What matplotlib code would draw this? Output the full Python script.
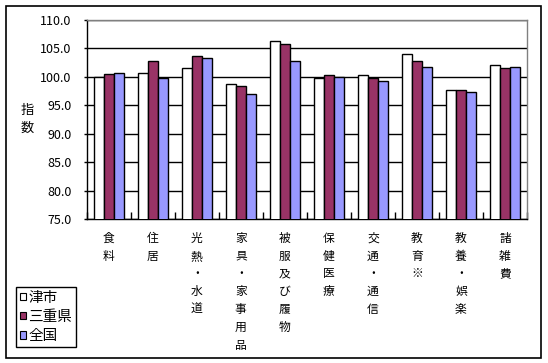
import matplotlib
matplotlib.use("Agg")
import matplotlib.pyplot as plt
from matplotlib.patches import Rectangle, Patch
import numpy as np

plt.rcParams['font.family'] = ['Noto Sans CJK JP', 'DejaVu Sans']

categories = ["食料", "住居", "光熱・水道", "家具・家事用品", "被服及び履物",
              "保健医療", "交通・通信", "教育※", "教養・娯楽", "諸雑費"]
series_names = ["津市", "三重県", "全国"]
tsu = [99.9, 100.7, 101.5, 98.7, 106.3, 99.8, 100.3, 103.9, 97.7, 102.0]
mie = [100.5, 102.7, 103.7, 98.4, 105.8, 100.3, 99.8, 102.8, 97.7, 101.5]
zenkoku = [100.7, 99.8, 103.3, 97.0, 102.8, 100.0, 99.3, 101.7, 97.3, 101.7]
yticks = [75.0, 80.0, 85.0, 90.0, 95.0, 100.0, 105.0, 110.0]
colors = ["#FFFFFF", "#993366", "#9999FF"]

W, H = 548, 363
fig = plt.figure(figsize=(W / 100, H / 100), dpi=100)

# outer border
fig.patches.append(Rectangle((6 / W, 1 - 357.7 / H), 535 / W, 351.7 / H,
                             transform=fig.transFigure, fill=False,
                             edgecolor="black", linewidth=1.2))

left, right, top, bottom = 86.7, 527.0, 19.7, 219.3
ax = fig.add_axes([left / W, 1 - bottom / H, (right - left) / W, (bottom - top) / H])

x = np.arange(len(categories))
bw = 0.227
for k, (vals, c) in enumerate(zip([tsu, mie, zenkoku], colors)):
    ax.bar(x + (k - 1) * bw, vals, width=bw, color=c, edgecolor="black",
           linewidth=1.0, label=series_names[k], zorder=3)

ax.set_xlim(-0.5, len(categories) - 0.5)
ax.set_ylim(yticks[0], yticks[-1])
ax.set_yticks(yticks)
ax.set_yticklabels([f"{v:.1f}" for v in yticks], fontsize=9)
ax.yaxis.grid(True, color="black", linewidth=1.0, zorder=0)
ax.set_axisbelow(True)
ax.tick_params(axis="y", length=2, width=1, pad=9)

ax.set_xticks(np.arange(len(categories) + 1) - 0.5)
ax.set_xticklabels([])
ax.tick_params(axis="x", direction="in", length=5, width=1)

for s in ["left", "bottom"]:
    ax.spines[s].set_color("black")
    ax.spines[s].set_linewidth(1.0)
for s in ["top", "right"]:
    ax.spines[s].set_color("#808080")
    ax.spines[s].set_linewidth(1.0)

# vertical category labels
row0 = (238.3 - bottom) / (bottom - top)
dy = 17.8 / (bottom - top)
for i, lab in enumerate(categories):
    for j, ch in enumerate(lab):
        ax.text(i, -row0 - j * dy, ch, transform=ax.get_xaxis_transform(),
                ha="center", va="center", fontsize=8.5)

# y-axis label (vertical)
fig.text(27 / W, 1 - 110 / H, "指", ha="center", va="center", fontsize=9.5)
fig.text(27 / W, 1 - 128 / H, "数", ha="center", va="center", fontsize=9.5)

handles = [Patch(facecolor=c, edgecolor="black", linewidth=0.8) for c in colors]
leg = fig.legend(handles, series_names, loc="upper left",
                 bbox_to_anchor=(16 / W, 1 - 287 / H), borderaxespad=0,
                 fontsize=10.5, handlelength=0.45, handleheight=0.45,
                 handletextpad=0.15, labelspacing=0.35, borderpad=0.25,
                 frameon=True, fancybox=False, framealpha=1, edgecolor="black")
leg.get_frame().set_linewidth(1.0)

fig.savefig("out.png", dpi=100)
